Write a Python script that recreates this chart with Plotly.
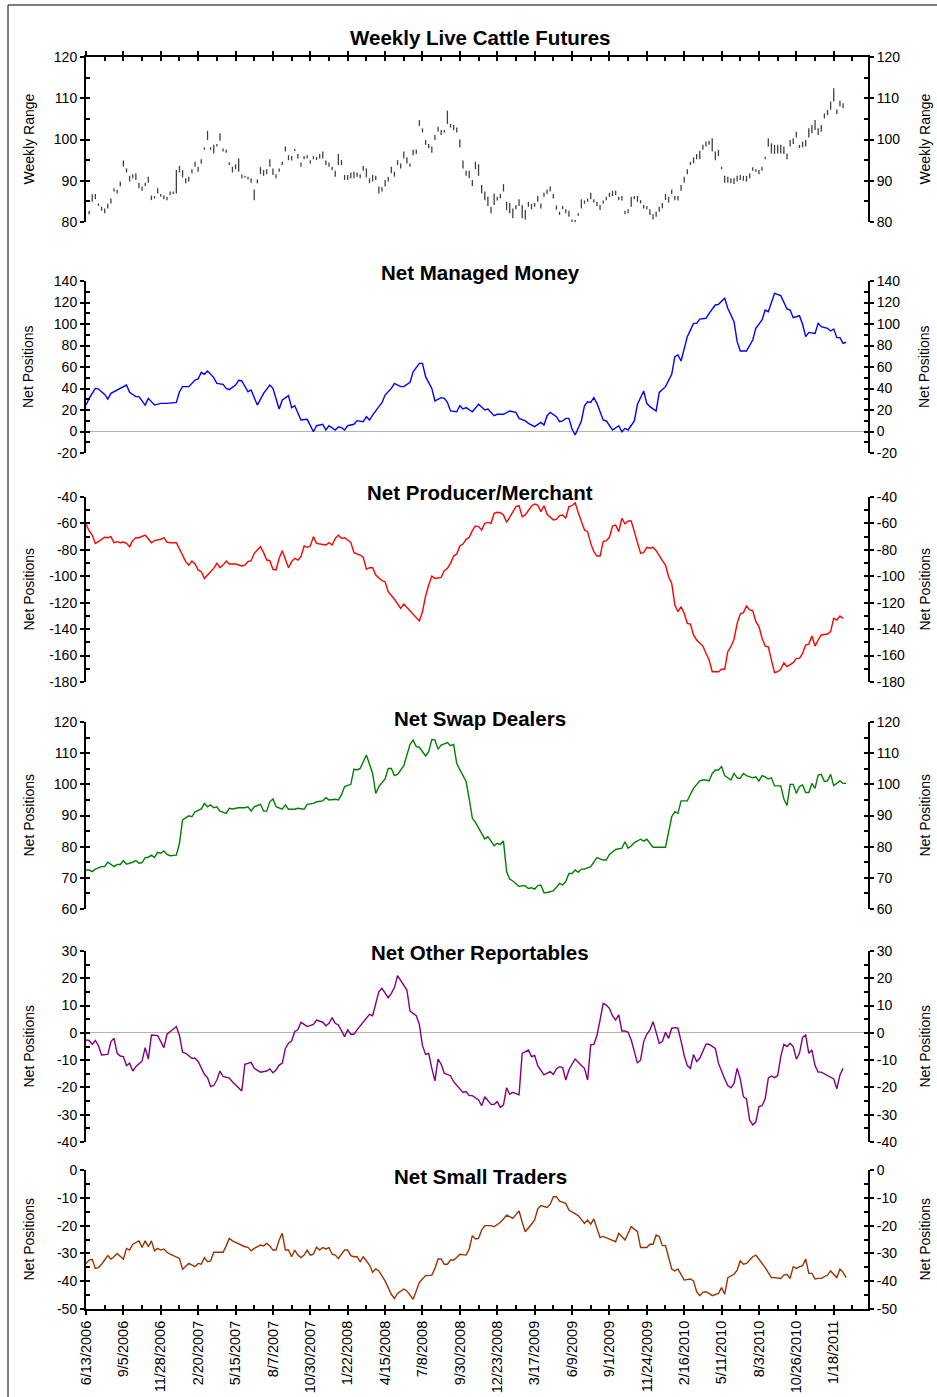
import plotly.graph_objects as go

# ---------------- data ----------------
week_labels = ["6/13/2006", "9/5/2006", "11/28/2006", "2/20/2007", "5/15/2007", "8/7/2007",
               "10/30/2007", "1/22/2008", "4/15/2008", "7/8/2008", "9/30/2008", "12/23/2008",
               "3/17/2009", "6/9/2009", "9/1/2009", "11/24/2009", "2/16/2010", "5/11/2010",
               "8/3/2010", "10/26/2010", "1/18/2011"]
label_weeks = [0, 12, 24, 36, 48, 60, 72, 84, 96, 108, 120, 132, 144, 156, 168, 180, 192, 204, 216, 228, 240]
minor_weeks = [6, 18, 30, 42, 54, 66, 78, 90, 102, 114, 126, 138, 150, 162, 174, 186, 198, 210, 222, 234, 246]

# Weekly live cattle futures range (one bar per week, first bar = week 1)
fut_first_week = 1
fut_high = [82.7, 86.7, 86.8, 84.5, 83.7, 83.3, 84.4, 85.7, 88.2, 87.8,
            89.8, 94.9, 93.0, 91.2, 91.6, 91.8, 89.5, 88.6, 89.5, 91.0,
            86.4, 86.3, 88.2, 86.8, 86.5, 86.1, 87.4, 87.4, 92.6, 93.6,
            92.6, 90.6, 91.0, 92.8, 94.6, 93.4, 95.2, 98.1, 102.1, 98.1,
            98.7, 98.9, 101.5, 97.8, 97.5, 94.5, 93.4, 94.0, 95.4, 91.5,
            91.2, 91.0, 90.6, 87.9, 90.3, 93.3, 92.6, 92.8, 95.2, 93.0,
            91.6, 93.0, 94.6, 98.3, 96.2, 96.0, 97.7, 96.5, 94.4, 96.0,
            96.2, 95.0, 96.0, 95.8, 96.5, 97.1, 94.9, 94.4, 93.4, 92.4,
            96.5, 95.0, 91.4, 91.4, 92.0, 92.2, 92.0, 91.6, 93.6, 93.0,
            90.6, 91.4, 91.2, 88.6, 88.4, 90.2, 91.0, 93.4, 92.2, 95.0,
            94.2, 97.1, 95.7, 94.2, 97.5, 97.6, 104.7, 102.7, 99.9, 98.9,
            98.3, 101.1, 103.1, 102.3, 102.3, 107.0, 103.8, 103.5, 102.9, 100.0,
            94.9, 92.4, 92.4, 90.2, 94.6,
            94.0, 89.0, 87.4, 86.1, 83.7, 86.9, 86.1, 86.8, 89.2, 84.9,
            84.6, 83.3, 84.1, 85.5, 84.1, 82.9, 84.9, 84.4, 84.6, 86.3,
            84.5, 87.1, 87.9, 88.6, 86.8, 84.0, 82.5, 83.9, 83.1, 82.7,
            80.6, 80.5, 82.1, 85.5, 85.2, 85.7, 87.1, 85.5, 84.9, 84.1,
            85.2, 86.1, 87.1, 87.6, 87.6, 86.1, 86.3, 82.7, 83.1, 86.1,
            86.3, 86.3, 85.3, 84.1, 83.9, 83.1, 81.9, 82.5, 83.7, 84.6,
            86.8, 86.1, 87.9, 86.3, 86.3, 89.0, 91.0, 92.8, 94.6, 95.7,
            96.5, 97.3, 98.7, 99.5, 99.7, 100.3, 97.1, 97.5, 93.4, 91.2,
            91.0, 90.6, 90.6, 91.2, 91.4, 91.2, 91.2, 91.8, 93.3, 92.8,
            92.6, 93.4, 95.8, 100.3, 99.1, 98.7, 98.7, 98.7, 98.3, 96.6,
            99.9, 100.3, 101.9, 98.7, 99.5, 99.9, 102.7, 103.5, 104.7, 102.7,
            103.5, 106.3, 107.2, 109.2, 112.4, 107.3, 109.4, 108.8]
fut_low = [81.9, 84.9, 85.5, 83.9, 82.7, 82.1, 83.3, 84.5, 87.4, 86.9,
           88.6, 93.4, 92.0, 89.8, 90.6, 90.2, 88.2, 87.6, 88.7, 89.5,
           85.3, 85.7, 86.9, 86.1, 85.5, 85.3, 86.5, 86.8, 86.9, 92.0,
           90.8, 89.4, 89.8, 91.8, 93.4, 92.2, 94.1, 97.5, 99.9, 97.5,
           96.6, 98.3, 99.7, 97.1, 96.8, 93.8, 92.0, 92.8, 92.2, 90.6,
           90.7, 90.3, 89.5, 85.3, 89.4, 91.6, 91.2, 91.6, 93.4, 91.4,
           90.6, 92.2, 93.8, 97.1, 95.0, 94.9, 97.2, 95.4, 93.4, 95.2,
           95.4, 94.2, 95.2, 95.0, 95.4, 95.4, 93.8, 93.4, 92.6, 91.0,
           93.8, 93.8, 90.2, 90.2, 90.6, 90.6, 91.0, 90.6, 92.4, 90.8,
           89.4, 89.8, 90.2, 86.9, 87.4, 88.6, 89.8, 91.8, 91.0, 93.8,
           93.0, 95.4, 94.2, 93.4, 96.2, 96.5, 103.3, 101.7, 98.7, 97.9,
           96.8, 99.9, 101.9, 101.1, 101.7, 103.8, 102.9, 102.3, 101.7, 98.1,
           93.0, 91.2, 90.6, 88.7, 92.8,
           91.2, 86.9, 85.3, 83.9, 82.1, 84.1, 85.2, 85.7, 87.4, 82.9,
           82.1, 80.9, 83.1, 83.9, 80.9, 80.6, 83.7, 83.1, 83.7, 84.9,
           83.3, 86.1, 86.8, 87.4, 85.7, 83.0, 81.7, 83.1, 82.1, 81.3,
           79.8, 79.8, 81.5, 83.3, 84.4, 84.9, 85.5, 84.7, 83.9, 82.9,
           84.4, 85.3, 86.1, 86.3, 86.5, 85.3, 85.2, 81.9, 82.1, 83.7,
           85.5, 84.9, 84.5, 83.3, 83.1, 81.7, 80.6, 81.3, 82.5, 83.3,
           85.3, 84.7, 86.8, 85.3, 85.2, 87.6, 89.5, 91.6, 93.8, 94.2,
           95.2, 95.2, 97.5, 98.3, 98.7, 97.1, 95.0, 96.0, 92.8, 89.5,
           89.5, 89.4, 89.2, 89.8, 90.2, 90.0, 89.8, 90.6, 92.4, 92.2,
           91.6, 92.4, 95.2, 98.3, 96.6, 96.5, 96.6, 96.6, 96.5, 95.2,
           98.3, 98.9, 100.5, 97.9, 98.1, 98.3, 100.5, 101.5, 102.3, 101.1,
           101.9, 105.1, 105.9, 107.2, 109.2, 106.2, 108.0, 107.6]

# (week, net position) pairs
managed_money = [
    (0, 24.6), (1, 30.8), (3, 40.1), (4, 39.5), (6, 34.5), (7, 30.2), (8, 35.5), (10, 38.6), (11, 40.8), (13, 43.2),
    (14, 36.4), (16, 32.4), (17, 32.4), (19, 24.6), (20, 30.8), (22, 24.6), (24, 26.2), (26, 26.2), (29, 27.1), (30, 37.0),
    (31, 41.7), (33, 41.7), (35, 47.9), (36, 48.8), (37, 55.0), (38, 53.2), (39, 56.3), (41, 50.1), (42, 44.8), (44, 43.9),
    (45, 40.1), (46, 38.9), (48, 43.2), (49, 47.6), (50, 47.0), (52, 37.0), (53, 38.6), (55, 24.6), (57, 35.5), (59, 43.2),
    (60, 40.1), (62, 20.9), (63, 29.3), (65, 33.3), (66, 22.2), (67, 24.0), (69, 10.7), (71, 11.3), (73, -0.2), (74, 5.4),
    (76, 6.7), (77, 1.4), (78, 5.4), (80, 1.4), (81, 4.2), (82, 3.6), (83, 1.4), (84, 5.4), (86, 6.7), (87, 10.1),
    (89, 9.1), (90, 13.8), (91, 10.7), (92, 15.3), (94, 23.1), (95, 26.8), (96, 33.9), (98, 40.1), (99, 44.8), (101, 41.7),
    (102, 41.7), (104, 45.7), (105, 55.6), (106, 59.4), (107, 63.4), (108, 63.4), (109, 51.0), (111, 40.1), (112, 28.4), (114, 31.5),
    (115, 30.8), (116, 27.1), (117, 19.1), (119, 18.4), (120, 24.0), (121, 20.9), (122, 22.2), (124, 18.4), (126, 25.3),
    (128, 20.0), (129, 20.9), (131, 14.7), (132, 16.0), (134, 16.0), (136, 19.1), (138, 17.8), (139, 12.2), (141, 9.8), (142, 7.6),
    (144, 4.5), (146, 8.5), (147, 6.0), (148, 14.7), (149, 17.8), (151, 13.8), (152, 9.1), (153, 9.8), (154, 12.2), (155, 12.2),
    (156, 2.3), (157, -3.3), (159, 9.8), (160, 24.0), (161, 27.7), (162, 27.1), (163, 31.5), (164, 26.2), (166, 10.7), (167, 9.8),
    (169, 1.4), (171, 5.4), (172, -0.2), (173, 2.9), (174, 1.4), (176, 9.8), (177, 25.3), (179, 37.7), (180, 26.2), (181, 23.1),
    (183, 19.1), (184, 36.4), (186, 41.7), (187, 47.9), (188, 53.2), (189, 69.6), (190, 71.2), (191, 65.6), (193, 88.2), (195, 100.6),
    (196, 100.6), (197, 104.6), (199, 105.3), (200, 109.9), (202, 117.7), (203, 118.3), (205, 123.9), (206, 114.6), (208, 102.2), (209, 83.6),
    (210, 74.9), (212, 74.9), (214, 85.1), (215, 96.0), (217, 103.7), (218, 113.0), (219, 111.5), (221, 128.5), (223, 126.4), (225, 114.0),
    (226, 113.0), (227, 105.9), (229, 107.7), (230, 99.7), (231, 88.2), (232, 92.2), (234, 91.3), (235, 100.6), (236, 97.5), (238, 96.0),
    (239, 93.5), (240, 95.4), (241, 87.3), (242, 87.3), (243, 82.0), (244, 83.0)]

producer_merchant = [
    (0, -60.7), (1, -65.5), (2, -68.8), (3, -75.1), (4, -73.8), (6, -70.5), (7, -70.8), (8, -70.0), (9, -74.6), (10, -73.8),
    (11, -74.6), (12, -74.1), (13, -75.1), (14, -77.6), (15, -73.0), (16, -70.8), (17, -70.8), (18, -69.5), (19, -68.8), (21, -74.6),
    (22, -73.0), (24, -72.0), (25, -70.8), (26, -74.1), (27, -74.6), (29, -74.6), (31, -83.9), (32, -88.9), (33, -91.5), (34, -88.4),
    (35, -90.7), (36, -95.2), (37, -96.5), (38, -101.6), (39, -99.0), (40, -96.5), (41, -94.0), (42, -90.2), (43, -93.5), (44, -91.5),
    (45, -88.4), (46, -90.7), (48, -90.7), (50, -92.2), (51, -91.5), (52, -88.9), (53, -88.2), (54, -82.6), (56, -77.6), (57, -82.1),
    (58, -87.7), (59, -88.2), (60, -94.7), (61, -95.2), (62, -86.4), (63, -80.6), (64, -87.7), (65, -93.5), (66, -88.9), (67, -86.4),
    (68, -87.7), (69, -85.2), (70, -77.1), (71, -78.1), (72, -77.1), (73, -70.0), (74, -75.1), (76, -75.6), (77, -76.3), (78, -74.6),
    (79, -76.3), (80, -71.3), (81, -69.0), (82, -71.3), (83, -70.8), (84, -72.5), (85, -74.3), (86, -82.1), (88, -83.9), (89, -85.7),
    (90, -94.7), (91, -93.5), (92, -93.5), (93, -99.0), (95, -103.3), (96, -104.1), (97, -111.6), (99, -117.4), (101, -124.3), (102, -121.0),
    (104, -126.0), (106, -130.6), (107, -133.8), (108, -126.8), (109, -114.9), (110, -106.6), (111, -99.8), (112, -101.6), (114, -100.8), (115, -95.8),
    (116, -94.0), (117, -90.2), (118, -84.7), (119, -83.1), (120, -77.1), (121, -75.6), (122, -72.0), (123, -70.5), (124, -65.5), (125, -61.9),
    (126, -62.4), (127, -65.0), (128, -59.9), (129, -59.2), (130, -59.9), (131, -52.4), (132, -51.6), (133, -51.9), (134, -53.6), (135, -59.2),
    (136, -55.4), (137, -51.1), (138, -47.3), (139, -46.6), (140, -54.9), (141, -53.6), (142, -49.8), (143, -46.8), (144, -45.3), (145, -46.1),
    (146, -51.1), (147, -46.6), (148, -53.1), (149, -54.9), (150, -57.4), (151, -56.9), (152, -54.1), (153, -53.6), (154, -56.1), (155, -47.3),
    (156, -46.6), (157, -44.3), (158, -51.9), (160, -65.0), (161, -66.2), (162, -75.1), (163, -81.4), (164, -84.7), (165, -84.7), (166, -73.8),
    (167, -73.0), (168, -70.5), (169, -61.9), (170, -61.2), (171, -66.2), (172, -56.1), (173, -60.4), (174, -58.2), (175, -58.2), (176, -66.2),
    (177, -75.1), (178, -82.6), (179, -82.1), (180, -78.1), (181, -78.8), (182, -78.1), (183, -80.6), (184, -84.7), (185, -88.2), (186, -91.5),
    (187, -100.3), (188, -105.3), (189, -121.7), (190, -126.8), (191, -123.0), (192, -128.0), (193, -135.6), (194, -136.1), (195, -144.4), (196, -148.2),
    (198, -152.8), (199, -158.3), (200, -163.4), (201, -172.2), (203, -172.2), (204, -170.4), (205, -170.4), (206, -157.1), (207, -153.3), (208, -147.7),
    (209, -135.6), (210, -128.5), (211, -127.5), (212, -122.5), (213, -125.5), (214, -126.0), (215, -134.3), (216, -138.1), (217, -146.9), (218, -152.8),
    (219, -153.3), (220, -163.4), (221, -172.9), (222, -172.2), (223, -170.4), (224, -165.4), (225, -168.4), (227, -165.4), (228, -162.1), (229, -162.1),
    (230, -158.3), (231, -152.0), (232, -151.3), (233, -145.2), (234, -152.8), (235, -148.2), (236, -144.4), (238, -143.7), (239, -141.9), (240, -131.8),
    (241, -133.1), (242, -130.1), (243, -131.8)]

swap_dealers = [
    (0, 72.5), (1, 72.5), (2, 72.0), (3, 72.8), (5, 73.6), (6, 73.6), (7, 75.0), (8, 74.3), (9, 73.6), (10, 74.3),
    (11, 74.3), (12, 75.5), (13, 74.4), (15, 75.0), (16, 75.5), (17, 74.7), (18, 74.9), (19, 76.5), (20, 76.6), (21, 77.3),
    (22, 76.5), (23, 78.2), (24, 77.9), (25, 78.6), (26, 77.5), (27, 77.1), (29, 77.3), (30, 81.1), (31, 88.6), (33, 89.9),
    (34, 89.6), (35, 91.2), (37, 92.1), (38, 93.9), (39, 92.8), (40, 93.4), (41, 92.5), (42, 92.8), (43, 91.4), (45, 90.7),
    (46, 92.3), (47, 92.1), (49, 92.5), (51, 92.5), (52, 92.8), (53, 91.4), (54, 92.8), (56, 93.6), (57, 91.4), (58, 91.4),
    (59, 94.4), (60, 95.3), (61, 92.8), (63, 92.0), (64, 93.4), (65, 92.0), (67, 92.0), (68, 92.3), (70, 92.0), (71, 93.6),
    (73, 93.9), (74, 94.4), (76, 94.7), (77, 95.7), (78, 95.0), (80, 95.2), (81, 95.0), (82, 96.6), (83, 99.3), (85, 100.0),
    (86, 104.9), (87, 104.6), (88, 105.1), (90, 109.4), (92, 103.5), (93, 97.1), (94, 99.3), (96, 101.7), (97, 105.1), (98, 105.1),
    (99, 102.8), (100, 103.2), (102, 106.0), (104, 112.8), (105, 114.2), (106, 112.1), (107, 111.9), (109, 109.1), (110, 110.5), (111, 114.4),
    (112, 114.2), (113, 111.3), (114, 112.6), (116, 113.4), (117, 112.4), (118, 112.8), (119, 106.7), (121, 102.8), (122, 100.9), (123, 95.3),
    (124, 89.1), (125, 87.8), (127, 84.3), (128, 82.5), (129, 83.2), (130, 81.8), (131, 80.3), (132, 81.1), (133, 80.7), (134, 81.8),
    (135, 72.0), (136, 69.6), (137, 69.0), (139, 67.2), (140, 67.5), (141, 67.4), (142, 66.6), (143, 66.8), (144, 66.4), (145, 67.5),
    (146, 67.7), (147, 65.2), (148, 65.3), (150, 65.8), (151, 67.2), (152, 68.2), (153, 67.7), (154, 68.8), (155, 71.4), (156, 71.4),
    (157, 72.5), (158, 71.8), (159, 72.8), (160, 72.8), (162, 73.6), (163, 75.0), (164, 76.5), (166, 75.7), (167, 75.7), (168, 77.5),
    (169, 78.4), (170, 79.1), (172, 79.5), (173, 81.6), (174, 79.5), (175, 80.2), (176, 81.3), (178, 82.4), (179, 81.8), (180, 82.4),
    (181, 81.1), (182, 79.8), (186, 79.8), (188, 89.6), (189, 91.2), (190, 90.7), (191, 94.7), (193, 94.7), (194, 96.8), (195, 98.7),
    (197, 101.1), (198, 101.4), (199, 101.4), (200, 101.1), (201, 103.5), (202, 104.6), (203, 104.6), (204, 105.7), (205, 102.8), (207, 101.4),
    (208, 103.5), (209, 102.1), (210, 101.9), (211, 103.5), (212, 102.8), (214, 102.1), (215, 102.4), (216, 101.1), (217, 102.8), (218, 102.4),
    (219, 101.7), (220, 102.1), (221, 99.5), (223, 99.5), (224, 95.3), (225, 93.2), (226, 100.0), (227, 100.0), (228, 97.1), (229, 99.3),
    (230, 99.8), (231, 97.4), (232, 97.4), (233, 100.3), (234, 98.7), (235, 103.0), (236, 103.2), (237, 100.9), (238, 101.1), (239, 103.2),
    (240, 99.6), (241, 100.3), (242, 101.1), (243, 100.3), (244, 100.3)]

other_reportables = [
    (0, -2.6), (1, -2.8), (2, -4.2), (3, -2.8), (4, -4.7), (5, -8.1), (7, -7.9), (8, -3.2), (9, -2.0), (10, -7.5),
    (11, -8.5), (12, -8.7), (13, -12.0), (14, -11.1), (15, -14.0), (16, -12.4), (18, -10.3), (19, -5.4), (20, -9.6), (21, -0.8),
    (23, -1.0), (25, -5.4), (26, -0.5), (28, 1.4), (29, 2.3), (30, -1.0), (31, -7.1), (32, -7.5), (34, -9.3), (35, -9.3),
    (36, -10.5), (38, -15.2), (39, -16.4), (40, -19.7), (41, -19.3), (42, -17.3), (43, -14.0), (44, -16.0), (46, -16.6), (47, -17.9),
    (49, -20.1), (50, -21.3), (51, -11.5), (53, -10.8), (54, -13.0), (56, -14.4), (58, -14.0), (59, -13.2), (60, -14.6), (61, -13.6),
    (62, -11.8), (63, -11.1), (64, -5.7), (65, -3.8), (66, -3.0), (67, 0.5), (68, 1.1), (69, 3.9), (70, 3.1), (71, 2.3),
    (73, 3.1), (74, 4.7), (76, 3.9), (77, 2.6), (78, 3.5), (79, 5.6), (80, 3.5), (81, 2.9), (83, -1.4), (84, 1.1),
    (85, -0.5), (86, -0.5), (87, 1.1), (88, 2.6), (89, 3.9), (91, 6.8), (92, 6.3), (93, 10.5), (94, 15.1), (95, 16.3),
    (97, 12.9), (98, 14.5), (99, 16.6), (100, 21.0), (102, 17.3), (103, 15.7), (104, 8.0), (106, 6.3), (107, 3.1), (108, -4.7),
    (109, -7.9), (110, -7.5), (111, -13.0), (112, -17.6), (113, -9.6), (114, -11.5), (115, -14.8), (116, -15.4), (117, -15.7), (118, -17.9),
    (120, -20.5), (121, -21.8), (122, -21.5), (123, -23.0), (124, -23.0), (126, -24.6), (127, -26.7), (128, -23.4), (130, -26.2), (131, -26.2),
    (132, -25.2), (133, -27.3), (134, -26.4), (135, -20.1), (136, -22.5), (137, -21.8), (139, -22.7), (140, -7.5), (142, -6.3), (143, -8.7),
    (144, -8.3), (145, -12.0), (147, -15.4), (149, -14.2), (150, -15.2), (151, -13.2), (152, -12.4), (153, -12.7), (154, -17.3), (155, -13.6),
    (156, -11.5), (157, -9.6), (159, -12.0), (160, -13.0), (161, -17.3), (162, -4.4), (163, -4.2), (164, -1.0), (165, 4.7), (166, 10.8),
    (167, 10.2), (168, 9.0), (169, 6.3), (170, 4.7), (171, 6.6), (172, 0.7), (173, 0.7), (174, 0.2), (175, -2.6), (176, -6.9),
    (177, -11.1), (178, -9.9), (179, -3.2), (180, -0.5), (181, 1.1), (182, 4.1), (183, -0.1), (184, -3.8), (185, -3.2), (186, 0.2),
    (187, -2.0), (188, 1.7), (189, 1.9), (190, 1.7), (191, -3.0), (192, -8.3), (193, -12.0), (194, -13.0), (195, -7.9), (196, -10.5),
    (197, -9.3), (199, -4.2), (200, -4.2), (202, -5.7), (203, -11.1), (204, -14.2), (205, -16.9), (206, -19.3), (207, -20.1), (208, -18.5),
    (209, -13.0), (210, -16.9), (211, -23.4), (212, -24.2), (213, -31.9), (214, -33.7), (215, -32.7), (216, -27.0), (217, -26.7), (218, -24.2),
    (219, -16.6), (220, -15.8), (221, -16.4), (222, -15.7), (223, -8.7), (224, -4.2), (225, -5.0), (226, -3.8), (227, -5.0), (228, -9.6),
    (229, -7.5), (230, -1.7), (231, -0.8), (232, -7.5), (233, -6.3), (234, -12.0), (235, -14.4), (236, -14.4), (238, -15.7), (240, -16.9),
    (241, -20.5), (242, -15.4), (243, -13.0)]

small_traders = [
    (0, -33.6), (1, -32.4), (2, -32.1), (3, -35.4), (4, -35.1), (5, -33.9), (7, -30.8), (8, -32.0), (9, -31.2), (10, -30.0),
    (12, -32.1), (13, -28.2), (14, -28.8), (15, -26.7), (17, -25.5), (18, -27.9), (19, -25.5), (20, -27.6), (21, -25.5), (22, -29.1),
    (23, -28.2), (24, -28.8), (25, -28.4), (26, -29.6), (27, -30.3), (29, -31.5), (30, -31.8), (31, -35.7), (33, -33.6), (35, -34.8),
    (36, -33.6), (37, -33.9), (38, -31.5), (39, -33.0), (40, -32.7), (41, -29.6), (44, -29.6), (45, -27.3), (46, -24.6), (47, -25.5),
    (49, -26.7), (50, -27.0), (51, -27.6), (52, -27.8), (53, -29.1), (54, -28.2), (56, -27.0), (57, -27.3), (58, -26.4), (59, -27.3),
    (60, -28.8), (61, -28.8), (62, -25.2), (63, -22.8), (64, -28.8), (65, -28.8), (66, -31.2), (67, -28.8), (68, -30.6), (69, -31.5),
    (70, -30.6), (71, -28.8), (72, -30.6), (73, -30.3), (74, -27.8), (75, -28.8), (76, -27.9), (77, -28.4), (78, -27.9), (79, -30.3),
    (80, -30.6), (81, -31.8), (83, -28.8), (84, -28.8), (85, -30.8), (86, -31.2), (87, -31.2), (88, -33.0), (89, -31.2), (91, -34.2),
    (92, -36.8), (93, -35.6), (94, -36.3), (96, -39.9), (97, -42.6), (98, -44.7), (99, -46.2), (100, -44.4), (102, -42.8), (103, -43.5),
    (104, -45.0), (105, -46.5), (106, -43.5), (107, -40.4), (108, -39.2), (109, -38.0), (111, -37.8), (112, -35.4), (113, -32.0), (114, -32.0),
    (115, -33.9), (116, -33.9), (117, -32.4), (118, -32.4), (119, -31.5), (120, -30.3), (122, -30.6), (123, -28.4), (124, -23.6), (125, -24.8),
    (126, -24.6), (127, -21.6), (128, -20.0), (130, -20.0), (131, -20.4), (133, -18.8), (134, -17.6), (135, -16.2), (137, -17.4), (139, -14.7),
    (140, -18.8), (141, -22.2), (143, -19.5), (144, -18.0), (145, -14.0), (146, -12.8), (148, -13.5), (149, -12.4), (150, -9.6), (151, -9.6),
    (152, -11.2), (154, -12.0), (155, -14.4), (157, -15.9), (158, -16.4), (160, -19.2), (161, -18.0), (162, -19.5), (163, -17.6), (164, -21.0),
    (165, -24.3), (166, -23.9), (168, -24.8), (169, -25.2), (170, -25.8), (171, -22.8), (172, -23.9), (173, -25.2), (175, -20.4), (177, -22.2),
    (178, -27.9), (180, -27.9), (181, -26.7), (182, -26.7), (183, -23.4), (184, -23.9), (185, -27.2), (186, -27.2), (188, -35.6), (189, -36.3),
    (190, -35.6), (192, -39.6), (194, -39.2), (195, -39.9), (196, -43.8), (197, -45.2), (198, -44.0), (199, -43.8), (200, -44.4), (201, -45.2),
    (203, -44.4), (204, -42.3), (205, -44.7), (206, -38.7), (208, -37.5), (209, -36.0), (210, -32.7), (211, -33.9), (212, -33.6), (214, -31.2),
    (215, -30.6), (216, -32.0), (217, -33.6), (218, -35.1), (220, -38.7), (221, -38.7), (223, -39.0), (224, -37.8), (225, -37.5), (226, -39.0),
    (227, -34.8), (228, -35.4), (229, -34.8), (230, -34.4), (231, -32.0), (232, -37.2), (233, -37.2), (234, -39.2), (235, -39.0), (236, -39.0),
    (238, -37.8), (239, -36.3), (241, -38.7), (242, -35.6), (243, -36.8), (244, -38.7)]

# ---------------- layout constants ----------------
W, H = 937, 1397
X0_PX, X1_PX = 86, 868
X_RANGE = [0, 251]
FONT = "Liberation Sans, Arial, sans-serif"

# title, y title, top px, bottom px, ymin, ymax, major step, minor step, zero line, title y px, color, data
panels = [
    ("Weekly Live Cattle Futures", "Weekly Range", 57, 222, 80, 120, 10, 5, False, 37, "#404040", None),
    ("Net Managed Money", "Net Positions", 281, 453, -20, 140, 20, 10, True, 272, "#0000FF", managed_money),
    ("Net Producer/Merchant", "Net Positions", 497, 682, -180, -40, 20, 10, False, 493, "#FF0000", producer_merchant),
    ("Net Swap Dealers", "Net Positions", 722, 909, 60, 120, 10, 5, False, 718, "#008000", swap_dealers),
    ("Net Other Reportables", "Net Positions", 951, 1142, -40, 30, 10, 5, True, 952, "#800080", other_reportables),
    ("Net Small Traders", "Net Positions", 1170, 1309, -50, 0, 10, 5, False, 1176, "#993300", small_traders),
]


def yf(px):
    return 1 - px / H


fig = go.Figure()
layout = {}
annotations = []
xdom = [X0_PX / W, X1_PX / W]
tickfont = dict(family=FONT, size=14, color="black")

for i, (title, ytitle, top, bot, ymin, ymax, step, mstep, zero, ty, color, data) in enumerate(panels):
    xn = i + 1
    ya = [4 * i + 1, 4 * i + 2, 4 * i + 3, 4 * i + 4]
    xname = "x" if xn == 1 else f"x{xn}"
    ynames = ["y" if a == 1 else f"y{a}" for a in ya]
    dom = [yf(bot), yf(top)]
    rng = [ymin, ymax]
    tvals = list(range(ymin, ymax + 1, step))
    ttext = [str(v) for v in tvals]

    # data
    if data is None:
        xs, ys = [], []
        for k, (hi, lo) in enumerate(zip(fut_high, fut_low)):
            w = fut_first_week + k
            xs += [w, w, None]
            ys += [lo, hi, None]
        fig.add_trace(go.Scatter(x=xs, y=ys, mode="lines", line=dict(color=color, width=1.3),
                                 xaxis=xname, yaxis=ynames[0], showlegend=False, hoverinfo="skip"))
    else:
        fig.add_trace(go.Scatter(x=[p[0] for p in data], y=[p[1] for p in data], mode="lines",
                                 line=dict(color=color, width=1.4),
                                 xaxis=xname, yaxis=ynames[0], showlegend=False))
    for yn in ynames[1:]:
        fig.add_trace(go.Scatter(x=[None], y=[None], xaxis=xname, yaxis=yn, showlegend=False, hoverinfo="skip"))

    # x axis
    xkey = "xaxis" if xn == 1 else f"xaxis{xn}"
    xa = dict(domain=xdom, range=X_RANGE, anchor=ynames[0], showgrid=False, zeroline=False,
              automargin=False, fixedrange=True)
    if i == 0:
        xa.update(side="top", showline=True, linewidth=2, linecolor="black", ticks="outside",
                  ticklen=4, tickwidth=2, tickcolor="black", tickmode="array", tickvals=label_weeks,
                  showticklabels=False)
    elif i == 5:
        xa.update(side="bottom", showline=True, linewidth=2, linecolor="black", ticks="outside",
                  ticklen=4, tickwidth=2, tickcolor="black", tickmode="array", tickvals=label_weeks,
                  ticktext=week_labels, tickangle=-90, tickfont=dict(family=FONT, size=14.5, color="black"))
    else:
        xa.update(showline=False, ticks="", showticklabels=False, tickmode="array", tickvals=[])
    if xn != 1:
        xa["matches"] = "x"
    layout[xkey] = xa

    # y axes: left main, left inner, right main, right inner
    base = dict(domain=dom, range=rng, anchor=xname, showgrid=False, automargin=False, fixedrange=True,
                tickcolor="black", tickwidth=2, ticklen=4, linecolor="black")
    for j, yn in enumerate(ynames):
        key = "yaxis" if ya[j] == 1 else f"yaxis{ya[j]}"
        d = dict(base)
        d["side"] = "left" if j < 2 else "right"
        if j in (0, 2):
            d.update(ticks="outside", showline=True, linewidth=2, showticklabels=True, tickfont=tickfont,
                     tickmode="array", tickvals=tvals, ticktext=ttext,
                     zeroline=(zero and j == 0), zerolinecolor="#b4b4b4", zerolinewidth=1)
        else:
            d.update(ticks="inside", showline=False, showticklabels=False, zeroline=False,
                     tickmode="linear", tick0=ymin, dtick=step,
                     minor=dict(ticks="inside", dtick=mstep, tick0=ymin, ticklen=4, tickwidth=2,
                                tickcolor="black", showgrid=False))
        if j > 0:
            d["overlaying"] = ynames[0]
        layout[key] = d

    # titles
    annotations.append(dict(text=f"<b>{title}</b>", x=((X0_PX + X1_PX) / 2 + 3) / W, y=yf(ty), xref="paper",
                            yref="paper", showarrow=False, xanchor="center", yanchor="middle",
                            font=dict(family=FONT, size=20.5, color="black")))
    for xpx in (28, 924):
        annotations.append(dict(text=ytitle, x=xpx / W, y=yf((top + bot) / 2), xref="paper", yref="paper",
                                showarrow=False, textangle=-90, xanchor="center", yanchor="middle",
                                font=dict(family=FONT, size=14, color="black")))

# inner (crossing) ticks on the top of panel 1 and bottom of panel 6
fig.add_trace(go.Scatter(x=[None], y=[None], xaxis="x7", yaxis="y", showlegend=False, hoverinfo="skip"))
fig.add_trace(go.Scatter(x=[None], y=[None], xaxis="x8", yaxis="y21", showlegend=False, hoverinfo="skip"))
inner_x = dict(domain=xdom, range=X_RANGE, showgrid=False, zeroline=False, automargin=False, fixedrange=True,
               showline=False, ticks="inside", ticklen=4, tickwidth=2, tickcolor="black", tickmode="array",
               tickvals=label_weeks, showticklabels=False,
               minor=dict(ticks="inside", tickmode="array", tickvals=minor_weeks, ticklen=4, tickwidth=2,
                          tickcolor="black", showgrid=False))
layout["xaxis7"] = dict(inner_x, side="top", anchor="y", overlaying="x")
layout["xaxis8"] = dict(inner_x, side="bottom", anchor="y21", overlaying="x6")

fig.update_layout(**layout)
fig.update_layout(
    width=W, height=H, margin=dict(l=0, r=0, t=0, b=0), template="none",
    paper_bgcolor="white", plot_bgcolor="rgba(0,0,0,0)", showlegend=False,
    annotations=annotations,
    shapes=[dict(type="rect", xref="paper", yref="paper", x0=8 / W, x1=1.05, y0=-0.05, y1=yf(5),
                 line=dict(color="black", width=1), fillcolor="rgba(0,0,0,0)", layer="below")],
)
fig.write_html("out.html", config={"displayModeBar": False},
               post_script="document.body.style.margin='0';document.body.style.padding='0';"
                           "document.body.style.overflow='hidden';")
